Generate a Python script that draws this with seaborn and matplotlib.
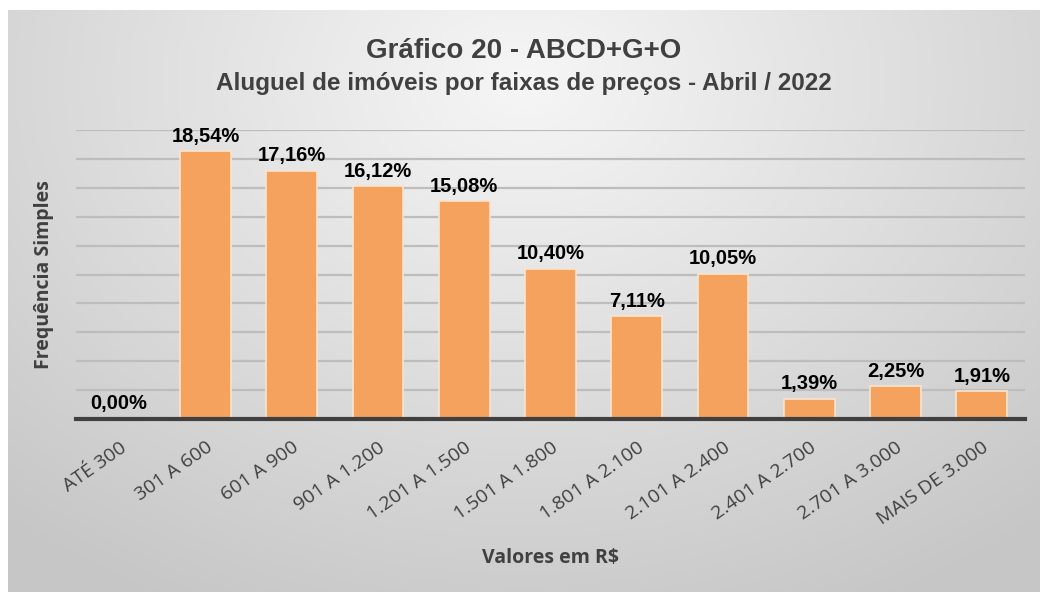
import numpy as np
import pandas as pd
import matplotlib
matplotlib.use("Agg")
import matplotlib.pyplot as plt
import seaborn as sns

categories = ["ATÉ 300", "301 A 600", "601 A 900", "901 A 1.200", "1.201 A 1.500",
              "1.501 A 1.800", "1.801 A 2.100", "2.101 A 2.400", "2.401 A 2.700",
              "2.701 A 3.000", "MAIS DE 3.000"]
values = [0.00, 18.54, 17.16, 16.12, 15.08, 10.40, 7.11, 10.05, 1.39, 2.25, 1.91]

title1 = "Gráfico 20 - ABCD+G+O"
title2 = "Aluguel de imóveis por faixas de preços - Abril / 2022"
xlabel = "Valores em R$"
ylabel = "Frequência Simples"

sns.set_theme(style="white")
plt.rcParams['font.family'] = ['Open Sans', 'DejaVu Sans']

W, H = 1047, 595
fig = plt.figure(figsize=(W / 100, H / 100), dpi=100)
fig.patch.set_facecolor("white")

# background gradient panel
bg = fig.add_axes([8 / W, 3 / H, 1032 / W, 582 / H], zorder=0)
ny, nx = 300, 600
yy, xx = np.mgrid[0:1:ny * 1j, 0:1:nx * 1j]
d = np.sqrt(((xx - 0.5) / 0.75) ** 2 + ((yy - 0.12) / 1.0) ** 2)
d = np.clip(d / 1.0, 0, 1)
light = np.array([0.965, 0.965, 0.965])
dark = np.array([0.78, 0.78, 0.78])
img = light[None, None, :] * (1 - d[..., None]) + dark[None, None, :] * d[..., None]
bg.imshow(img, aspect="auto", extent=[0, 1, 1, 0])
bg.set_axis_off()

ax = fig.add_axes([76 / W, 1 - 419 / H, (1025 - 76) / W, (419 - 130) / H], zorder=1)
ax.patch.set_alpha(0)

df = pd.DataFrame({"cat": categories, "val": values})
sns.barplot(data=df, x="cat", y="val", ax=ax, color="#F4A25E", saturation=1,
            width=0.59, edgecolor="#FBE3CF", linewidth=1.2, zorder=3)

ax.set_ylim(0, 20)
ax.set_xlim(-0.5, len(categories) - 0.5)
ax.set_yticks(np.arange(2, 21, 2))
ax.set_yticklabels([])
ax.tick_params(axis="y", length=0)
ax.yaxis.grid(True, color="#BDBDBD", linewidth=1.6, zorder=0)
ax.set_axisbelow(True)
for s in ["top", "right", "left"]:
    ax.spines[s].set_visible(False)
ax.spines["bottom"].set_color("#404040")
ax.spines["bottom"].set_linewidth(3)
ax.spines["bottom"].set_zorder(5)

labels = [f"{v:.2f}".replace(".", ",") + "%" for v in values]
ax.bar_label(ax.containers[0], labels=labels, padding=4, fontsize=14.5,
             fontweight="bold", color="black", family=["Liberation Sans", "DejaVu Sans"])

ax.set_xticks(range(len(categories)))
ax.set_xticklabels(categories, rotation=35, ha="right", rotation_mode="anchor",
                   fontsize=14, color="#404040")
ax.tick_params(axis="x", length=0, pad=14)
ax.set_xlabel(xlabel, fontsize=14, fontweight="bold", color="#404040", labelpad=14)
ax.set_ylabel(ylabel, fontsize=14, fontweight="bold", color="#404040", labelpad=12)

fig.text(0.5, 1 - 51 / H, title1, ha="center", va="center", fontsize=20,
         fontweight="bold", color="#404040", family=["Liberation Sans Narrow", "Liberation Sans", "DejaVu Sans"])
fig.text(0.5, 1 - 84 / H, title2, ha="center", va="center", fontsize=17.5,
         fontweight="bold", color="#404040", family=["Liberation Sans Narrow", "Liberation Sans", "DejaVu Sans"])

fig.savefig("out.png", dpi=100, facecolor="white")
